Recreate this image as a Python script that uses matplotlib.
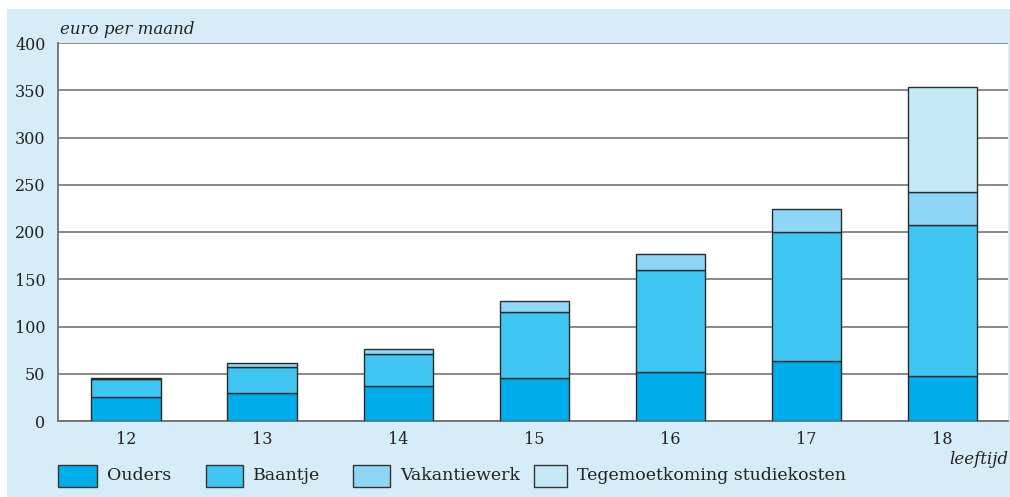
import matplotlib
matplotlib.use("Agg")
import matplotlib.pyplot as plt
from matplotlib.patches import Rectangle
import numpy as np

# leeftijd en bedragen (euro per maand)
ages = [12, 13, 14, 15, 16, 17, 18]
ouders = np.array([25, 30, 37, 45, 52, 63, 48])
baantje = np.array([19, 27, 34, 70, 108, 137, 159])
vakantiewerk = np.array([2, 4, 5, 12, 17, 24, 35])
tegemoet = np.array([0, 0, 0, 0, 0, 0, 111])

labels = ["Ouders", "Baantje", "Vakantiewerk", "Tegemoetkoming studiekosten"]
colors = ["#00adeb", "#40c6f2", "#8ed6f5", "#c6e9f8"]
series = [ouders, baantje, vakantiewerk, tegemoet]

plt.rcParams["font.family"] = ["DejaVu Serif"]

fig = plt.figure(figsize=(10.10, 4.97), dpi=100)
fig.patches.append(Rectangle((7 / 1010, 0), 1, 1 - 9 / 497, transform=fig.transFigure,
                             facecolor="#d6edf9", edgecolor="none", zorder=-5))

ax = fig.add_axes([58 / 1010, 76 / 497, 950 / 1010, 378 / 497])
ax.set_facecolor("white")

bottom = np.zeros(len(ages))
for vals, col in zip(series, colors):
    mask = vals > 0
    ax.bar(np.array(ages)[mask], vals[mask], width=0.51, bottom=bottom[mask],
           color=col, edgecolor="#2b2b2b", linewidth=1.0, zorder=3)
    bottom += vals

ax.set_xlim(11.5, 18.48)
ax.set_ylim(0, 400)
ax.set_yticks(range(0, 401, 50))
ax.set_xticks(ages)
ax.yaxis.grid(True, color="#808080", linewidth=1.3, zorder=0)
ax.set_axisbelow(True)
for s in ["top", "right"]:
    ax.spines[s].set_visible(False)
ax.spines["left"].set_color("#707070")
ax.spines["bottom"].set_color("#707070")
ax.spines["left"].set_linewidth(1.3)
ax.spines["bottom"].set_linewidth(1.3)
ax.tick_params(length=0, labelsize=11.5, colors="#222222", pad=7)
ax.tick_params(axis="y", pad=9)

fig.text(60 / 1010, 1 - 30 / 497, "euro per maand", style="italic", fontsize=12,
         color="#222222", va="center", ha="left")
fig.text(1008 / 1010, 1 - 459 / 497, "leeftijd", style="italic", fontsize=12,
         color="#222222", va="center", ha="right")

# legenda
leg_x = [58, 206, 353, 534]
leg_w = [39, 37, 37, 33]
for x, w, lab, col in zip(leg_x, leg_w, labels, colors):
    fig.patches.append(Rectangle((x / 1010, 1 - 487 / 497), w / 1010, 22 / 497,
                                 transform=fig.transFigure, facecolor=col,
                                 edgecolor="#333333", linewidth=1.0, zorder=2))
    fig.text((x + w + 10) / 1010, 1 - 476 / 497, lab, fontsize=12.5, color="#222222",
             va="center", ha="left")

fig.savefig("out.png", dpi=100)
